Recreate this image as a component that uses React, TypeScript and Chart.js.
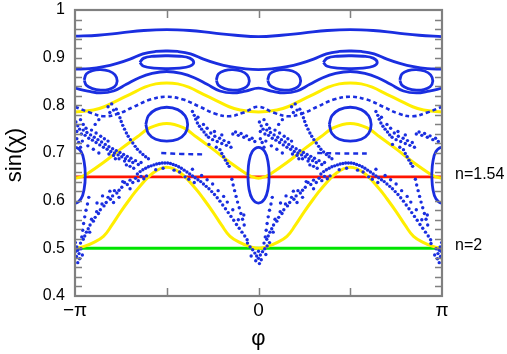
import { useEffect, useRef } from 'react';
import { Chart, registerables } from 'chart.js';

Chart.register(...registerables);

type P = [number, number];

// phi in units of pi, value = sin(chi)
const xTickValues = [-1, 0, 1];
const xTickLabels = ['−π', '0', 'π'];
const xInnerTicks = [-0.5, 0, 0.5];
const yTickLabels = ['0.4', '0.5', '0.6', '0.7', '0.8', '0.9', '1'];
const refLineValues = [0.65, 0.5];
const refLineLabels = ['n=1.54', 'n=2'];

const topCurve: P[] = [[-1,0.945],[-0.875,0.947],[-0.75,0.952],[-0.625,0.957],[-0.5,0.959],[-0.375,0.957],[-0.25,0.952],[-0.125,0.947],[0,0.944],[0.125,0.947],[0.25,0.952],[0.375,0.957],[0.5,0.959],[0.625,0.957],[0.75,0.952],[0.875,0.947],[1,0.944]];

const bandUpper: P[] = [[-1,0.876],[-0.92,0.877],[-0.845,0.881],[-0.77,0.888],[-0.70,0.897],[-0.63,0.908],[-0.56,0.913],[-0.5,0.914],[-0.44,0.913],[-0.37,0.908],[-0.30,0.897],[-0.23,0.888],[-0.155,0.881],[-0.08,0.877],[0,0.875],[0.08,0.877],[0.155,0.881],[0.23,0.888],[0.30,0.897],[0.37,0.908],[0.44,0.913],[0.5,0.914],[0.56,0.913],[0.63,0.908],[0.70,0.897],[0.77,0.888],[0.845,0.881],[0.92,0.877],[1,0.876]];

const bandLower: P[] = [[-1,0.836],[-0.93,0.830],[-0.86,0.826],[-0.79,0.830],[-0.72,0.844],[-0.65,0.858],[-0.58,0.867],[-0.5,0.871],[-0.42,0.867],[-0.35,0.858],[-0.28,0.844],[-0.21,0.830],[-0.14,0.826],[-0.07,0.830],[0,0.836],[0.07,0.830],[0.14,0.826],[0.21,0.830],[0.28,0.844],[0.35,0.858],[0.42,0.867],[0.5,0.871],[0.58,0.867],[0.65,0.858],[0.72,0.844],[0.79,0.830],[0.86,0.826],[0.93,0.830],[1,0.836]];

const smallIslandLeft: P[] = [[-0.647,0.890],[-0.625,0.899],[-0.57,0.903],[-0.5,0.904],[-0.43,0.903],[-0.375,0.899],[-0.353,0.890],[-0.375,0.882],[-0.43,0.878],[-0.5,0.877],[-0.57,0.878],[-0.625,0.882],[-0.647,0.890]];
const smallIslandRight: P[] = [[0.353,0.890],[0.375,0.899],[0.43,0.903],[0.5,0.904],[0.57,0.903],[0.625,0.899],[0.647,0.890],[0.625,0.882],[0.57,0.878],[0.5,0.877],[0.43,0.878],[0.375,0.882],[0.353,0.890]];

const midIslandA: P[] = [[-0.95,0.853],[-0.938,0.866],[-0.905,0.873],[-0.86,0.875],[-0.815,0.872],[-0.782,0.864],[-0.77,0.851],[-0.785,0.839],[-0.82,0.833],[-0.86,0.832],[-0.905,0.835],[-0.938,0.842],[-0.95,0.853]];
const midIslandB: P[] = [[-0.23,0.853],[-0.218,0.866],[-0.185,0.873],[-0.14,0.875],[-0.095,0.872],[-0.062,0.864],[-0.05,0.851],[-0.065,0.839],[-0.10,0.833],[-0.14,0.832],[-0.185,0.835],[-0.218,0.842],[-0.23,0.853]];
const midIslandC: P[] = [[0.05,0.853],[0.062,0.866],[0.095,0.873],[0.14,0.875],[0.185,0.872],[0.218,0.864],[0.23,0.851],[0.215,0.839],[0.18,0.833],[0.14,0.832],[0.095,0.835],[0.062,0.842],[0.05,0.853]];
const midIslandD: P[] = [[0.77,0.853],[0.782,0.866],[0.815,0.873],[0.86,0.875],[0.905,0.872],[0.938,0.864],[0.95,0.851],[0.935,0.839],[0.90,0.833],[0.86,0.832],[0.815,0.835],[0.782,0.842],[0.77,0.853]];

const largeIslandLeft: P[] = [[-0.614,0.760],[-0.60,0.778],[-0.56,0.791],[-0.5,0.796],[-0.44,0.791],[-0.40,0.778],[-0.386,0.760],[-0.40,0.741],[-0.44,0.729],[-0.5,0.725],[-0.56,0.729],[-0.60,0.741],[-0.614,0.760]];
const largeIslandRight: P[] = [[0.386,0.760],[0.40,0.778],[0.44,0.791],[0.5,0.796],[0.56,0.791],[0.60,0.778],[0.614,0.760],[0.60,0.741],[0.56,0.729],[0.5,0.725],[0.44,0.729],[0.40,0.741],[0.386,0.760]];

const tallIslandMinusPi: P[] = [[-1.056,0.653],[-1.05,0.681],[-1.033,0.703],[-1,0.712],[-0.967,0.703],[-0.95,0.681],[-0.944,0.653],[-0.95,0.625],[-0.967,0.604],[-1,0.595],[-1.033,0.604],[-1.05,0.625],[-1.056,0.653]];
const tallIslandZero: P[] = [[-0.058,0.653],[-0.052,0.681],[-0.034,0.703],[0,0.712],[0.034,0.703],[0.052,0.681],[0.058,0.653],[0.052,0.625],[0.034,0.604],[0,0.595],[-0.034,0.604],[-0.052,0.625],[-0.058,0.653]];
const tallIslandPi: P[] = [[0.944,0.653],[0.95,0.681],[0.967,0.703],[1,0.712],[1.033,0.703],[1.05,0.681],[1.056,0.653],[1.05,0.625],[1.033,0.604],[1,0.595],[0.967,0.604],[0.95,0.625],[0.944,0.653]];

const dottedSeparatrix: P[] = [[-1,0.797],[-0.92,0.785],[-0.84,0.777],[-0.76,0.783],[-0.68,0.797],[-0.59,0.812],[-0.5,0.818],[-0.41,0.812],[-0.32,0.797],[-0.24,0.783],[-0.16,0.777],[-0.08,0.785],[0,0.797],[0.08,0.785],[0.16,0.777],[0.24,0.783],[0.32,0.797],[0.41,0.812],[0.5,0.818],[0.59,0.812],[0.68,0.797],[0.76,0.783],[0.84,0.777],[0.92,0.785],[1,0.797]];
const dashLeft: P[] = [[-0.53,0.700],[-0.42,0.698],[-0.30,0.697]];
const dashRight: P[] = [[0.32,0.700],[0.45,0.699],[0.59,0.699]];

const yellowUpper: P[] = [[-1,0.786],[-0.9,0.790],[-0.84,0.797],[-0.77,0.810],[-0.70,0.823],[-0.62,0.838],[-0.56,0.845],[-0.5,0.847],[-0.44,0.845],[-0.38,0.838],[-0.30,0.823],[-0.23,0.810],[-0.16,0.797],[-0.1,0.790],[0,0.786],[0.1,0.790],[0.16,0.797],[0.23,0.810],[0.30,0.823],[0.38,0.838],[0.44,0.845],[0.5,0.847],[0.56,0.845],[0.62,0.838],[0.70,0.823],[0.77,0.810],[0.84,0.797],[0.9,0.790],[1,0.786]];
const yellowMiddle: P[] = [[-1,0.647],[-0.965,0.650],[-0.935,0.656],[-0.845,0.680],[-0.755,0.707],[-0.66,0.734],[-0.59,0.753],[-0.5,0.762],[-0.41,0.753],[-0.34,0.734],[-0.245,0.707],[-0.155,0.680],[-0.065,0.656],[-0.035,0.650],[0,0.647],[0.035,0.650],[0.065,0.656],[0.155,0.680],[0.245,0.707],[0.34,0.734],[0.41,0.753],[0.5,0.762],[0.59,0.753],[0.66,0.734],[0.755,0.707],[0.845,0.680],[0.935,0.656],[0.965,0.650],[1,0.647]];
const yellowLower: P[] = [[-1,0.500],[-0.95,0.504],[-0.90,0.512],[-0.845,0.525],[-0.80,0.548],[-0.752,0.576],[-0.70,0.604],[-0.66,0.624],[-0.575,0.658],[-0.5,0.670],[-0.425,0.658],[-0.34,0.624],[-0.30,0.604],[-0.248,0.576],[-0.20,0.548],[-0.155,0.525],[-0.10,0.512],[-0.05,0.504],[0,0.500],[0.05,0.504],[0.10,0.512],[0.155,0.525],[0.20,0.548],[0.248,0.576],[0.30,0.604],[0.34,0.624],[0.425,0.658],[0.5,0.670],[0.575,0.658],[0.66,0.624],[0.70,0.604],[0.752,0.576],[0.80,0.548],[0.845,0.525],[0.90,0.512],[0.95,0.504],[1,0.500]];

const chaosBandLeft: P[] = [[-0.995,0.765],[-0.985,0.757],[-0.99,0.745],[-0.975,0.750],[-0.965,0.740],[-0.955,0.748],[-0.945,0.737],[-0.935,0.743],[-0.925,0.731],[-0.915,0.738],[-0.905,0.727],[-0.895,0.733],[-0.885,0.722],[-0.875,0.728],[-0.865,0.717],[-0.855,0.723],[-0.845,0.712],[-0.835,0.718],[-0.825,0.708],[-0.815,0.713],[-0.805,0.703],[-0.795,0.709],[-0.785,0.700],[-0.775,0.705],[-0.765,0.696],[-0.755,0.701],[-0.745,0.692],[-0.735,0.697],[-0.725,0.688],[-0.715,0.693],[-0.705,0.684],[-0.695,0.689],[-0.685,0.680],[-0.67,0.684],[-0.655,0.676],[-0.64,0.680],[-0.93,0.715],[-0.9,0.708],[-0.87,0.700],[-0.96,0.725],[-0.82,0.725],[-0.78,0.688],[-0.72,0.675],[-0.97,0.770]];
const chaosBandRight: P[] = [[0.005,0.765],[0.015,0.757],[0.01,0.745],[0.025,0.750],[0.035,0.740],[0.045,0.748],[0.055,0.737],[0.065,0.743],[0.075,0.731],[0.085,0.738],[0.095,0.727],[0.105,0.733],[0.115,0.722],[0.125,0.728],[0.135,0.717],[0.145,0.723],[0.155,0.712],[0.165,0.718],[0.175,0.708],[0.185,0.713],[0.195,0.703],[0.205,0.709],[0.215,0.700],[0.225,0.705],[0.235,0.696],[0.245,0.701],[0.255,0.692],[0.265,0.697],[0.275,0.688],[0.285,0.693],[0.295,0.684],[0.305,0.689],[0.315,0.680],[0.33,0.684],[0.345,0.676],[0.36,0.680],[0.07,0.715],[0.1,0.708],[0.13,0.700],[0.04,0.725],[0.18,0.725],[0.22,0.688],[0.28,0.675],[0.03,0.770]];

const chaosStrandALeft: P[] = [[-0.775,0.792],[-0.765,0.783],[-0.755,0.774],[-0.748,0.766],[-0.74,0.758],[-0.73,0.750],[-0.72,0.742],[-0.71,0.735],[-0.698,0.728],[-0.685,0.721],[-0.672,0.714],[-0.66,0.708],[-0.645,0.702],[-0.63,0.697],[-0.615,0.692],[-0.60,0.688],[-0.82,0.797],[-0.80,0.803],[-0.79,0.790],[-0.81,0.785]];
const chaosStrandARight: P[] = [[0.225,0.792],[0.235,0.783],[0.245,0.774],[0.252,0.766],[0.26,0.758],[0.27,0.750],[0.28,0.742],[0.29,0.735],[0.302,0.728],[0.315,0.721],[0.328,0.714],[0.34,0.708],[0.355,0.702],[0.37,0.697],[0.385,0.692],[0.40,0.688],[0.18,0.797],[0.20,0.803],[0.21,0.790],[0.19,0.785]];

const chaosStrandBLeft: P[] = [[-0.36,0.787],[-0.35,0.779],[-0.342,0.771],[-0.333,0.763],[-0.322,0.756],[-0.31,0.750],[-0.297,0.744],[-0.285,0.738],[-0.272,0.733],[-0.26,0.742],[-0.25,0.728],[-0.238,0.735],[-0.225,0.724],[-0.212,0.731],[-0.20,0.720],[-0.188,0.726],[-0.175,0.716],[-0.162,0.722],[-0.15,0.712],[-0.14,0.740],[-0.125,0.744],[-0.11,0.737],[-0.095,0.741],[-0.08,0.733],[-0.065,0.736],[-0.05,0.728],[-0.035,0.731],[-0.02,0.724],[-0.21,0.707],[-0.20,0.699],[-0.19,0.692],[-0.18,0.685],[-0.17,0.678],[-0.16,0.672]];
const chaosStrandBRight: P[] = [[0.64,0.787],[0.65,0.779],[0.658,0.771],[0.667,0.763],[0.678,0.756],[0.69,0.750],[0.703,0.744],[0.715,0.738],[0.728,0.733],[0.74,0.742],[0.75,0.728],[0.762,0.735],[0.775,0.724],[0.788,0.731],[0.80,0.720],[0.812,0.726],[0.825,0.716],[0.838,0.722],[0.85,0.712],[0.86,0.740],[0.875,0.744],[0.89,0.737],[0.905,0.741],[0.92,0.733],[0.935,0.736],[0.95,0.728],[0.965,0.731],[0.98,0.724],[0.79,0.707],[0.80,0.699],[0.81,0.692],[0.82,0.685],[0.83,0.678],[0.84,0.672]];

const chaosArcLeft: P[] = [[-0.66,0.656],[-0.645,0.661],[-0.63,0.665],[-0.615,0.668],[-0.60,0.671],[-0.585,0.673],[-0.57,0.675],[-0.555,0.677],[-0.54,0.678],[-0.525,0.679],[-0.51,0.679],[-0.495,0.679],[-0.48,0.678],[-0.465,0.676],[-0.45,0.674],[-0.435,0.671],[-0.42,0.668],[-0.405,0.664],[-0.39,0.660],[-0.375,0.656],[-0.36,0.652],[-0.345,0.648],[-0.33,0.644],[-0.315,0.640],[-0.30,0.635],[-0.285,0.630],[-0.27,0.625],[-0.255,0.619],[-0.24,0.613],[-0.225,0.606],[-0.21,0.599],[-0.195,0.591],[-0.18,0.583],[-0.165,0.575],[-0.15,0.567],[-0.135,0.559],[-0.12,0.550],[-0.105,0.542],[-0.09,0.534],[-0.075,0.526],[-0.062,0.518],[-0.31,0.653],[-0.28,0.644],[-0.25,0.635],[-0.22,0.621],[-0.19,0.609],[-0.17,0.597],[-0.14,0.581],[-0.36,0.666],[-0.40,0.650]];
const chaosArcRight: P[] = [[0.34,0.656],[0.355,0.661],[0.37,0.665],[0.385,0.668],[0.40,0.671],[0.415,0.673],[0.43,0.675],[0.445,0.677],[0.46,0.678],[0.475,0.679],[0.49,0.679],[0.505,0.679],[0.52,0.678],[0.535,0.676],[0.55,0.674],[0.565,0.671],[0.58,0.668],[0.595,0.664],[0.61,0.660],[0.625,0.656],[0.64,0.652],[0.655,0.648],[0.67,0.644],[0.685,0.640],[0.70,0.635],[0.715,0.630],[0.73,0.625],[0.745,0.619],[0.76,0.613],[0.775,0.606],[0.79,0.599],[0.805,0.591],[0.82,0.583],[0.835,0.575],[0.85,0.567],[0.865,0.559],[0.88,0.550],[0.895,0.542],[0.91,0.534],[0.925,0.526],[0.938,0.518],[0.69,0.653],[0.72,0.644],[0.75,0.635],[0.78,0.621],[0.81,0.609],[0.83,0.597],[0.86,0.581],[0.64,0.666],[0.60,0.650]];

const chaosInnerLeft: P[] = [[-0.145,0.645],[-0.138,0.633],[-0.13,0.621],[-0.122,0.609],[-0.114,0.597],[-0.105,0.585],[-0.096,0.573],[-0.087,0.561],[-0.078,0.549]];
const chaosInnerRight: P[] = [[0.855,0.645],[0.862,0.633],[0.87,0.621],[0.878,0.609],[0.886,0.597],[0.895,0.585],[0.904,0.573],[0.913,0.561],[0.922,0.549]];

const chaosLowerLeft: P[] = [[-0.61,0.652],[-0.625,0.646],[-0.64,0.651],[-0.655,0.642],[-0.67,0.647],[-0.685,0.638],[-0.70,0.643],[-0.715,0.634],[-0.73,0.638],[-0.745,0.628],[-0.76,0.622],[-0.772,0.616],[-0.785,0.621],[-0.795,0.610],[-0.807,0.603],[-0.82,0.607],[-0.83,0.596],[-0.842,0.589],[-0.853,0.593],[-0.862,0.581],[-0.872,0.573],[-0.882,0.577],[-0.89,0.565],[-0.90,0.557],[-0.91,0.561],[-0.918,0.549],[-0.928,0.541],[-0.938,0.534],[-0.947,0.526],[-0.955,0.519],[-0.925,0.607],[-0.932,0.593],[-0.94,0.580],[-0.947,0.566],[-0.953,0.552],[-0.958,0.538],[-0.963,0.524],[-0.97,0.511],[-0.79,0.596],[-0.76,0.607],[-0.92,0.534],[-0.70,0.625]];
const chaosLowerRight: P[] = [[0.39,0.652],[0.375,0.646],[0.36,0.651],[0.345,0.642],[0.33,0.647],[0.315,0.638],[0.30,0.643],[0.285,0.634],[0.27,0.638],[0.255,0.628],[0.24,0.622],[0.228,0.616],[0.215,0.621],[0.205,0.610],[0.193,0.603],[0.18,0.607],[0.17,0.596],[0.158,0.589],[0.147,0.593],[0.138,0.581],[0.128,0.573],[0.118,0.577],[0.11,0.565],[0.10,0.557],[0.09,0.561],[0.082,0.549],[0.072,0.541],[0.062,0.534],[0.053,0.526],[0.045,0.519],[0.075,0.607],[0.068,0.593],[0.06,0.580],[0.053,0.566],[0.047,0.552],[0.042,0.538],[0.037,0.524],[0.03,0.511],[0.21,0.596],[0.24,0.607],[0.08,0.534],[0.30,0.625]];

const chaosExtraLeft: P[] = [[-0.99,0.730],[-0.98,0.722],[-0.97,0.712],[-0.955,0.760],[-0.94,0.752],[-0.91,0.748],[-0.885,0.742],[-0.86,0.735],[-0.84,0.730],[-0.815,0.698],[-0.79,0.695],[-0.76,0.688],[-0.73,0.683],[-0.70,0.672],[-0.68,0.668],[-0.33,0.775],[-0.30,0.760],[-0.28,0.752],[-0.24,0.745],[-0.20,0.738],[-0.27,0.718],[-0.23,0.712],[-0.56,0.665],[-0.52,0.668],[-0.46,0.664],[-0.43,0.660],[-0.38,0.645],[-0.35,0.638],[-0.85,0.610],[-0.88,0.595],[-0.81,0.620],[-0.74,0.640],[-0.87,0.770],[-0.89,0.760],[-0.11,0.560],[-0.08,0.570]];
const chaosExtraRight: P[] = [[0.01,0.730],[0.02,0.722],[0.03,0.712],[0.045,0.760],[0.06,0.752],[0.09,0.748],[0.115,0.742],[0.14,0.735],[0.16,0.730],[0.185,0.698],[0.21,0.695],[0.24,0.688],[0.27,0.683],[0.30,0.672],[0.32,0.668],[0.67,0.775],[0.70,0.760],[0.72,0.752],[0.76,0.745],[0.80,0.738],[0.73,0.718],[0.77,0.712],[0.44,0.665],[0.48,0.668],[0.54,0.664],[0.57,0.660],[0.62,0.645],[0.65,0.638],[0.15,0.610],[0.12,0.595],[0.19,0.620],[0.26,0.640],[0.13,0.770],[0.11,0.760],[0.89,0.560],[0.92,0.570]];

const clusterMinusPi: P[] = [[-0.998,0.512],[-0.99,0.503],[-0.985,0.496],[-0.978,0.489],[-0.992,0.483],[-0.975,0.478],[-0.996,0.494],[-0.968,0.499],[-0.96,0.486],[-0.985,0.470]];
const clusterZero: P[] = [[-0.06,0.511],[-0.046,0.503],[-0.032,0.497],[-0.02,0.490],[-0.01,0.484],[0,0.479],[0.01,0.486],[0.022,0.493],[0.034,0.499],[0.047,0.505],[0.06,0.512],[-0.015,0.474],[0.015,0.476],[0,0.494],[-0.04,0.484],[0.04,0.487],[0.005,0.468]];
const clusterPi: P[] = [[0.998,0.512],[0.99,0.503],[0.985,0.496],[0.978,0.489],[0.992,0.483],[0.975,0.478],[0.996,0.494],[0.968,0.499],[0.96,0.486],[0.985,0.470],[0.94,0.510]];

const BLUE = '#1a2ee0';
const YELLOW = '#ffee00';
const RED = '#ff1400';
const GREEN = '#00e400';
const FONT = "'Liberation Sans', Arial, sans-serif";

const xy = (a: P[]) => a.map(([x, y]) => ({ x, y }));

const curve = (a: P[], color: string, width: number, dash: number[] = []) => ({
  data: xy(a),
  showLine: true,
  borderColor: color,
  borderWidth: width,
  borderDash: dash,
  pointRadius: 0,
  tension: 0.4,
  fill: false,
});

const dots = (a: P[]) => ({
  data: xy(a),
  showLine: false,
  pointRadius: 1.7,
  pointBackgroundColor: BLUE,
  pointBorderWidth: 0,
});

const framePlugin = {
  id: 'frameTicks',
  afterDatasetsDraw(chart: any) {
    const { ctx, chartArea: a, scales } = chart;
    const xs = scales.x;
    const ys = scales.y;
    ctx.save();
    ctx.strokeStyle = '#808080';
    ctx.lineWidth = 1.5;
    ctx.beginPath();
    for (let i = 1; i < 30; i++) {
      const v = 0.4 + i * 0.02;
      const py = Math.round(ys.getPixelForValue(v)) + 0.5;
      ctx.moveTo(a.left, py); ctx.lineTo(a.left + 7, py);
      ctx.moveTo(a.right, py); ctx.lineTo(a.right - 7, py);
    }
    for (const v of xInnerTicks) {
      const px = Math.round(xs.getPixelForValue(v)) + 0.5;
      ctx.moveTo(px, a.bottom); ctx.lineTo(px, a.bottom - 8);
      ctx.moveTo(px, a.top); ctx.lineTo(px, a.top + 8);
    }
    ctx.stroke();
    ctx.lineWidth = 2.2;
    ctx.strokeRect(a.left, a.top, a.right - a.left, a.bottom - a.top);

    ctx.fillStyle = '#000';
    ctx.font = `16px ${FONT}`;
    ctx.textAlign = 'left';
    ctx.textBaseline = 'middle';
    refLineValues.forEach((v, i) => {
      ctx.fillText(refLineLabels[i], a.right + 13, ys.getPixelForValue(v) - 2.5);
    });

    ctx.font = `22px ${FONT}`;
    ctx.textAlign = 'center';
    ctx.textBaseline = 'alphabetic';
    ctx.fillText('φ', xs.getPixelForValue(0), 345);

    ctx.translate(21, (a.top + a.bottom) / 2 + 2);
    ctx.rotate(-Math.PI / 2);
    ctx.fillText('sin(χ)', 0, 0);
    ctx.restore();
  },
};

export default function App() {
  const ref = useRef<HTMLCanvasElement>(null);
  useEffect(() => {
    document.body.style.margin = '0';
    const canvas = ref.current!;
    const datasets: any[] = [
      dots(chaosBandLeft), dots(chaosBandRight),
      dots(chaosStrandALeft), dots(chaosStrandARight),
      dots(chaosStrandBLeft), dots(chaosStrandBRight),
      dots(chaosArcLeft), dots(chaosArcRight),
      dots(chaosInnerLeft), dots(chaosInnerRight),
      dots(chaosLowerLeft), dots(chaosLowerRight),
      dots(chaosExtraLeft), dots(chaosExtraRight),
      dots(clusterMinusPi), dots(clusterZero), dots(clusterPi),
      curve(topCurve, BLUE, 2.8),
      curve(bandUpper, BLUE, 2.8),
      curve(bandLower, BLUE, 2.8),
      curve(smallIslandLeft, BLUE, 2.8),
      curve(smallIslandRight, BLUE, 2.8),
      curve(midIslandA, BLUE, 2.8),
      curve(midIslandB, BLUE, 2.8),
      curve(midIslandC, BLUE, 2.8),
      curve(midIslandD, BLUE, 2.8),
      curve(largeIslandLeft, BLUE, 2.8),
      curve(largeIslandRight, BLUE, 2.8),
      curve(tallIslandMinusPi, BLUE, 2.8),
      curve(tallIslandZero, BLUE, 2.8),
      curve(tallIslandPi, BLUE, 2.8),
      curve(dottedSeparatrix, BLUE, 2.6, [4, 3]),
      curve(dashLeft, BLUE, 2.4, [5, 4]),
      curve(dashRight, BLUE, 2.4, [5, 4]),
      curve(yellowUpper, YELLOW, 3),
      curve(yellowMiddle, YELLOW, 3),
      curve(yellowLower, YELLOW, 3),
      curve([[-1, refLineValues[0]], [1, refLineValues[0]]], RED, 2.6),
      curve([[-1, refLineValues[1]], [1, refLineValues[1]]], GREEN, 3),
    ];
    const chart = new Chart(canvas, {
      type: 'scatter',
      data: { datasets },
      options: {
        animation: false,
        responsive: false,
        devicePixelRatio: 1,
        events: [],
        layout: { padding: { left: 8, right: 65, top: 10, bottom: 0 } },
        plugins: { legend: { display: false }, tooltip: { enabled: false } },
        scales: {
          x: {
            type: 'linear',
            min: -1,
            max: 1,
            afterBuildTicks: (s: any) => { s.ticks = xTickValues.map((v) => ({ value: v })); },
            afterFit: (s: any) => { s.height = 58; s.paddingLeft = 0; s.paddingRight = 0; },
            ticks: {
              callback: (v: any) => xTickLabels[xTickValues.indexOf(Number(v))] ?? '',
              font: { family: FONT, size: 19 },
              color: '#000',
              padding: 3,
              maxRotation: 0,
              autoSkip: false,
            },
            grid: { display: false, drawTicks: false },
            border: { display: false },
          },
          y: {
            type: 'linear',
            min: 0.4,
            max: 1,
            afterBuildTicks: (s: any) => { s.ticks = yTickLabels.map((t) => ({ value: Number(t) })); },
            afterFit: (s: any) => { s.width = 67; s.paddingTop = 0; s.paddingBottom = 0; },
            ticks: {
              callback: (v: any) => yTickLabels.find((t) => Math.abs(Number(t) - Number(v)) < 1e-6) ?? '',
              font: { family: FONT, size: 16 },
              color: '#000',
              padding: 10,
              autoSkip: false,
            },
            grid: { display: false, drawTicks: false },
            border: { display: false },
          },
        },
      },
      plugins: [framePlugin],
    });
    return () => chart.destroy();
  }, []);
  return <canvas ref={ref} width={507} height={354} style={{ display: 'block', width: 507, height: 354 }} />;
}
